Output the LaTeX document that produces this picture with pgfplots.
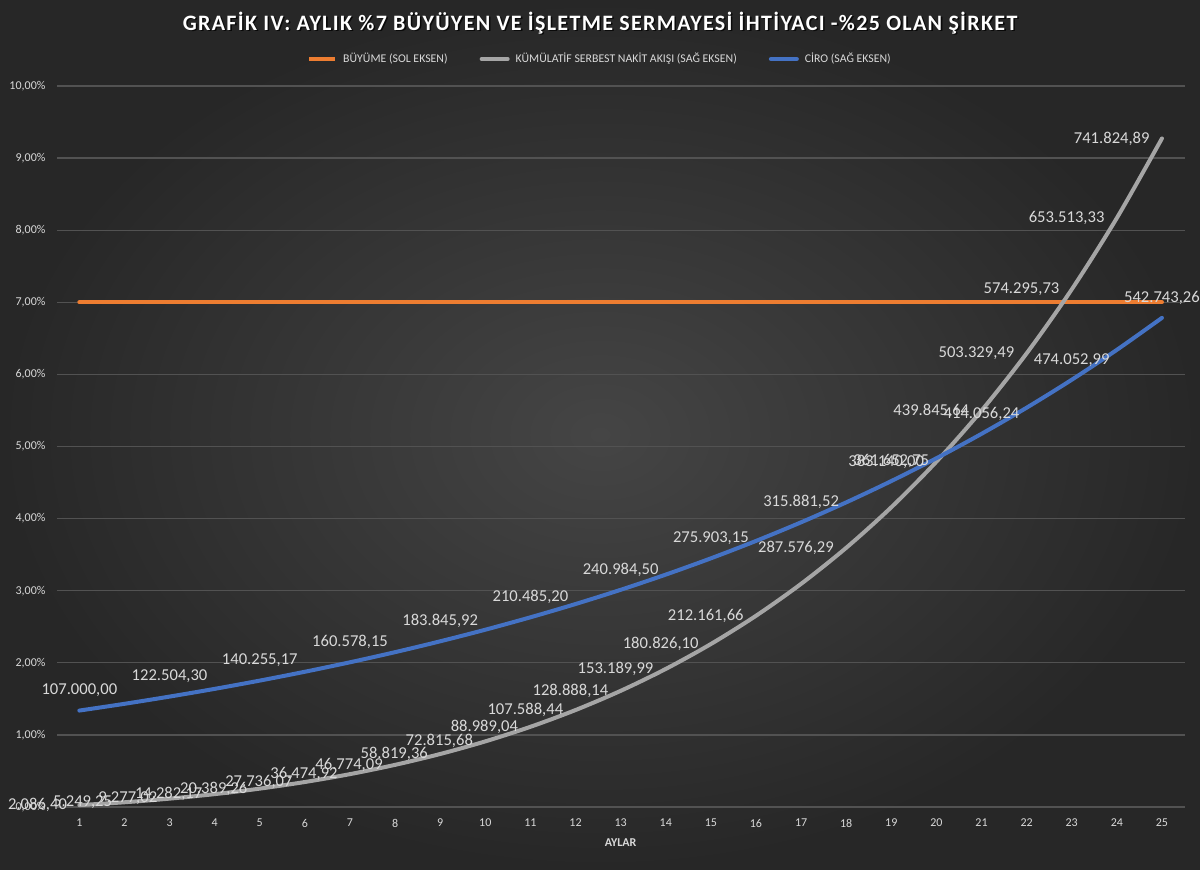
\documentclass[border=0pt]{standalone}
\usepackage{pgfplots}
\pgfplotsset{compat=1.18}
\usepackage{fontspec}
\setmainfont{Carlito}

\definecolor{bgin}{HTML}{454545}
\definecolor{bgout}{HTML}{272727}
\definecolor{orangeS}{HTML}{ED7D31}
\definecolor{grayS}{HTML}{A5A5A5}
\definecolor{blueS}{HTML}{4472C4}
\definecolor{txt}{HTML}{D9D9D9}
\definecolor{gridc}{HTML}{525252}

\pgfplotsset{
  base/.style={
    at={(28.4pt,31pt)}, anchor=south west,
    scale only axis, width=563.85pt, height=360.5pt,
    xmin=0.5, xmax=25.5,
    clip=false,
  },
}

\begin{document}
\begin{tikzpicture}
  \useasboundingbox (0,0) rectangle (600pt,434.5pt);
  \shade[inner color=bgin, outer color=bgout] (0,0) rectangle (600pt,434.5pt);

  % title with a soft shadow
  \node[text=black, opacity=0.75, font=\bfseries\fontsize{11}{13}\selectfont\addfontfeatures{LetterSpace=6}]
    at (300.8pt,422.2pt) {GRAFİK IV: AYLIK \%7 BÜYÜYEN VE İŞLETME SERMAYESİ İHTİYACI -\%25 OLAN ŞİRKET};
  \node[text=white, font=\bfseries\fontsize{11}{13}\selectfont\addfontfeatures{LetterSpace=6}]
    at (300pt,423pt) {GRAFİK IV: AYLIK \%7 BÜYÜYEN VE İŞLETME SERMAYESİ İHTİYACI -\%25 OLAN ŞİRKET};

  % left axis: growth in percent
  \begin{axis}[
    base,
    ymin=0, ymax=10,
    ytick={0,1,...,10}, xtick={1,...,25},
    ymajorgrids, major grid style={gridc, line width=0.6pt},
    axis line style={draw=none},
    major tick length=0pt,
    tick label style={txt, font=\fontsize{6}{7}\selectfont},
    /pgf/number format/assume math mode=true,
    yticklabel={\pgfmathprintnumber[fixed,fixed zerofill,precision=2,use comma]{\tick}\%},
    yticklabel style={anchor=east, inner sep=0pt, xshift=-5.5pt},
    xticklabel style={anchor=center, inner sep=0pt, yshift=-8pt},
    xlabel={\textbf{AYLAR}},
    xlabel style={at={(axis description cs:0.5,-0.05)}, anchor=center, txt, font=\fontsize{6}{7}\selectfont},
  ]
    \addplot[orangeS, line width=2pt, line cap=round] coordinates {
      (1,7)(2,7)(3,7)(4,7)(5,7)(6,7)(7,7)(8,7)(9,7)(10,7)(11,7)(12,7)(13,7)
      (14,7)(15,7)(16,7)(17,7)(18,7)(19,7)(20,7)(21,7)(22,7)(23,7)(24,7)(25,7)
    };
  \end{axis}

  % right axis (hidden): cash flow and turnover
  \begin{axis}[
    base,
    ymin=0, ymax=800000,
    hide axis,
    legend columns=3,
    legend style={at={(0.4826,1.0374)}, anchor=center, draw=none, fill=none,
      text=txt, font=\fontsize{5.9}{6.5}\selectfont,
      /tikz/every even column/.append style={column sep=14pt},
      /tikz/every odd column/.append style={column sep=1pt}},
    legend image code/.code={\draw[#1] (0pt,0pt) -- (13pt,0pt);},
    every node near coord/.append style={txt, font=\fontsize{8.3}{9}\selectfont, inner sep=0pt},
  ]
    \addlegendimage{orangeS, line width=2pt}
    \addlegendentry{BÜYÜME (SOL EKSEN)}

    \addplot[grayS, line width=2pt, smooth, line cap=round] coordinates {
      (1,2086.40)(2,5249.25)(3,9277.02)(4,14282.17)(5,20389.26)(6,27736.07)
      (7,36474.92)(8,46774.09)(9,58819.36)(10,72815.68)(11,88989.04)(12,107588.44)
      (13,128888.14)(14,153189.99)(15,180826.10)(16,212161.66)(17,247596.00)
      (18,287576.29)(19,332575.00)(20,383140.00)(21,439845.64)(22,503329.49)
      (23,574295.73)(24,653513.33)(25,741824.89)
    };
    \addlegendentry{KÜMÜLATİF SERBEST NAKİT AKIŞI (SAĞ EKSEN)}

    \addplot[blueS, line width=2pt, smooth, line cap=round] coordinates {
      (1,107000.00)(2,114490.00)(3,122504.30)(4,131079.60)(5,140255.17)
      (6,150073.04)(7,160578.15)(8,171818.62)(9,183845.92)(10,196715.14)
      (11,210485.20)(12,225219.16)(13,240984.50)(14,257853.42)(15,275903.15)
      (16,295216.37)(17,315881.52)(18,337993.22)(19,361652.75)(20,386968.44)
      (21,414056.24)(22,443040.17)(23,474052.99)(24,507236.69)(25,542743.26)
    };
    \addlegendentry{CİRO (SAĞ EKSEN)}

    % data labels, cash flow: left of the point
    \addplot[draw=none, mark=none, forget plot, point meta=explicit symbolic,
      nodes near coords, nodes near coords style={anchor=east, xshift=-6pt}]
      coordinates {
      (1,2086.40)[2.086,40] (2,5249.25)[5.249,25] (3,9277.02)[9.277,02]
      (4,14282.17)[14.282,17] (5,20389.26)[20.389,26] (6,27736.07)[27.736,07]
      (7,36474.92)[36.474,92] (8,46774.09)[46.774,09] (9,58819.36)[58.819,36]
      (10,72815.68)[72.815,68] (11,88989.04)[88.989,04] (12,107588.44)[107.588,44]
      (13,128888.14)[128.888,14] (14,153189.99)[153.189,99] (15,180826.10)[180.826,10]
      (16,212161.66)[212.161,66] (18,287576.29)[287.576,29] (20,383140.00)[383.140,00]
      (21,439845.64)[439.845,64] (22,503329.49)[503.329,49] (23,574295.73)[574.295,73]
      (24,653513.33)[653.513,33] (25,741824.89)[741.824,89]
    };

    % data labels, turnover: above the point
    \addplot[draw=none, mark=none, forget plot, point meta=explicit symbolic,
      nodes near coords, nodes near coords style={anchor=center, yshift=10pt}]
      coordinates {
      (1,107000.00)[107.000,00] (3,122504.30)[122.504,30] (5,140255.17)[140.255,17]
      (7,160578.15)[160.578,15] (9,183845.92)[183.845,92] (11,210485.20)[210.485,20]
      (13,240984.50)[240.984,50] (15,275903.15)[275.903,15] (17,315881.52)[315.881,52]
      (19,361652.75)[361.652,75] (21,414056.24)[414.056,24] (23,474052.99)[474.052,99]
      (25,542743.26)[542.743,26]
    };
  \end{axis}
\end{tikzpicture}
\end{document}
